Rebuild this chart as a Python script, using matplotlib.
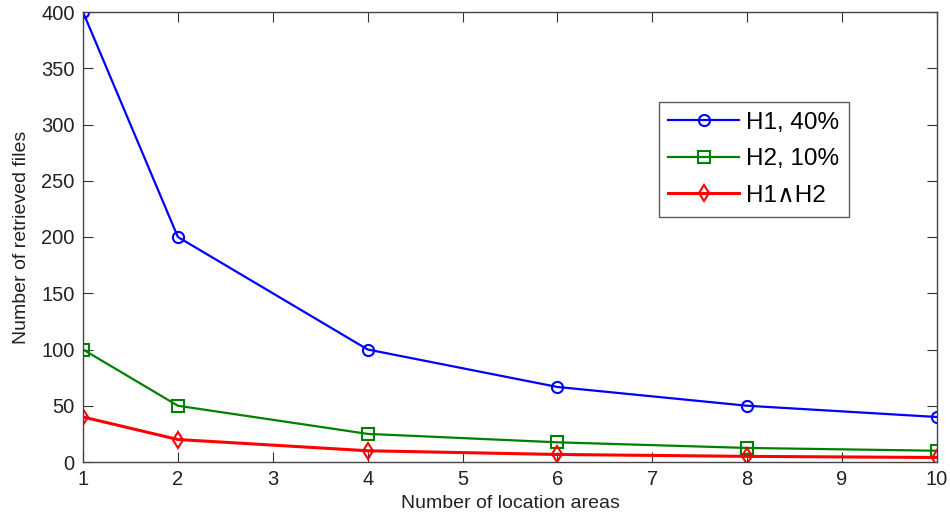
import matplotlib
matplotlib.use('Agg')
from matplotlib import pyplot as plt

plt.rcParams['font.family'] = ['Liberation Sans', 'DejaVu Sans']

# data
areas = [1, 2, 4, 6, 8, 10]
h1 = [400, 200, 100, 66.7, 50, 40]
h2 = [100, 50, 25, 17.5, 12.5, 10]
h1h2 = [40, 20, 10, 6.7, 5, 4]

fig = plt.figure(figsize=(9.5, 5.19), dpi=100)
ax = fig.add_axes([83 / 950, 1 - 462 / 519, 854 / 950, 450 / 519])

ax.plot(areas, h1, color='#0000ff', lw=1.6, marker='o', ms=8, mfc='none', mew=1.5, label='H1, 40%')
ax.plot(areas, h2, color='#008000', lw=1.6, marker='s', ms=8, mfc='none', mew=1.5, label='H2, 10%')
ax.plot(areas, h1h2, color='#ff0000', lw=2.2, marker='d', ms=8, mfc='none', mew=1.5, label='H1\u2227H2')

ax.set_xlim(1, 10)
ax.set_ylim(0, 400)
ax.set_xticks(range(1, 11))
ax.set_yticks(range(0, 401, 50))
ax.tick_params(direction='in', length=7, labelsize=14.5, color='#333333', labelcolor='#222222',
               top=True, right=True, pad=6)
for s in ax.spines.values():
    s.set_color('#444444')
    s.set_linewidth(1)

ax.set_xlabel('Number of location areas', fontsize=14, color='#222222', labelpad=4)
ax.set_ylabel('Number of retrieved files', fontsize=14, color='#222222', labelpad=8)

leg = ax.legend(loc='upper left', bbox_to_anchor=(0.674, 0.80), borderaxespad=0, fontsize=17.5,
                frameon=True, fancybox=False, edgecolor='#333333', handlelength=2.9, borderpad=0.4,
                labelspacing=0.6, handletextpad=0.3)
leg.get_frame().set_linewidth(1)

fig.savefig('out.png', dpi=100)
